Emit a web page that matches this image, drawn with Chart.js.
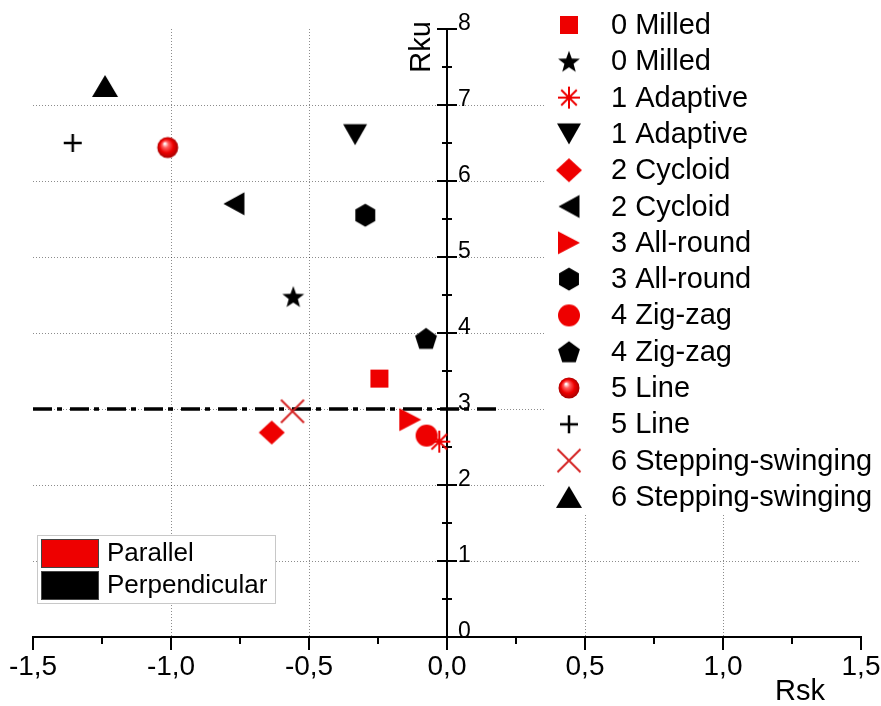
<!DOCTYPE html>
<html>
<head>
<meta charset="utf-8">
<script src="https://cdn.jsdelivr.net/npm/chart.js@4.4.1/dist/chart.umd.min.js"></script>
<style>
  html, body { margin: 0; padding: 0; background: #ffffff; }
  #wrap { width: 881px; height: 706px; }
</style>
</head>
<body>
<div id="wrap"><canvas id="c" width="881" height="706"></canvas></div>
<script>
// ---------------- DATA ----------------
const seriesNames = ['0 Milled', '0 Milled', '1 Adaptive', '1 Adaptive', '2 Cycloid', '2 Cycloid',
  '3 All-round', '3 All-round', '4 Zig-zag', '4 Zig-zag', '5 Line', '5 Line',
  '6 Stepping-swinging', '6 Stepping-swinging'];
const orientation = ['Parallel', 'Perpendicular', 'Parallel', 'Perpendicular', 'Parallel', 'Perpendicular',
  'Parallel', 'Perpendicular', 'Parallel', 'Perpendicular', 'Parallel', 'Perpendicular',
  'Parallel', 'Perpendicular'];
const rskValues = [-0.245, -0.557, -0.028, -0.333, -0.635, -0.772, -0.133, -0.296, -0.074, -0.076, -1.012, -1.356, -0.560, -1.239];
const rkuValues = [3.40, 4.48, 2.57, 6.61, 2.69, 5.70, 2.86, 5.55, 2.65, 3.93, 6.44, 6.50, 2.97, 7.25];
const refLineRsk = [-1.5, 0.185];
const refLineRku = [3, 3];
const xTicks = [-1.5, -1.0, -0.5, 0.0, 0.5, 1.0, 1.5];
const yTicks = [0, 1, 2, 3, 4, 5, 6, 7, 8];
const groupNames = ['Parallel', 'Perpendicular'];

// ---------------- STYLE ----------------
const RED = '#ee0000';
const BLACK = '#000000';
const shapeNames = ['square', 'star5', 'asterisk', 'triDown', 'diamond', 'triLeft', 'triRight',
  'hexagon', 'circle', 'pentagon', 'ball', 'plus', 'xcross', 'triUp'];
const FONT = 'Arial, "Liberation Sans", Helvetica, sans-serif';

function poly(g, pts) {
  g.beginPath();
  pts.forEach((p, i) => i ? g.lineTo(p[0], p[1]) : g.moveTo(p[0], p[1]));
  g.closePath();
  g.fill();
}
function regular(n, r, start, dy) {
  const pts = [];
  for (let k = 0; k < n; k++) {
    const a = start + k * 2 * Math.PI / n;
    pts.push([r * Math.cos(a), r * Math.sin(a) + (dy || 0)]);
  }
  return pts;
}
function makeMarker(shape, color) {
  const c = document.createElement('canvas');
  c.width = 32; c.height = 32;
  const g = c.getContext('2d');
  g.translate(16, 16);
  g.fillStyle = color; g.strokeStyle = color;
  switch (shape) {
    case 'square': g.fillRect(-9, -9, 18, 18); break;
    case 'star5': {
      const pts = [];
      for (let k = 0; k < 10; k++) {
        const r = k % 2 ? 4.8 : 11.5;
        const a = -Math.PI / 2 + k * Math.PI / 5;
        pts.push([r * Math.cos(a), r * Math.sin(a) + 1.1]);
      }
      poly(g, pts); break;
    }
    case 'asterisk': {
      g.lineWidth = 2;
      for (let k = 0; k < 4; k++) {
        const a = k * Math.PI / 4;
        g.beginPath();
        g.moveTo(-11 * Math.cos(a), -11 * Math.sin(a));
        g.lineTo(11 * Math.cos(a), 11 * Math.sin(a));
        g.stroke();
      }
      break;
    }
    case 'triDown': poly(g, [[-12, -10.5], [12, -10.5], [0, 10.5]]); break;
    case 'diamond': poly(g, [[0, -12], [13, 0], [0, 12], [-13, 0]]); break;
    case 'triLeft': poly(g, [[-10.5, 0], [10.5, -11.5], [10.5, 11.5]]); break;
    case 'triRight': poly(g, [[11, 0], [-11, -11.5], [-11, 11.5]]); break;
    case 'hexagon': poly(g, regular(6, 11.5, -Math.PI / 2, 0)); break;
    case 'circle': g.beginPath(); g.arc(0, 0, 11, 0, Math.PI * 2); g.fill(); break;
    case 'pentagon': poly(g, regular(5, 11.5, -Math.PI / 2, 1.1)); break;
    case 'ball': {
      const gr = g.createRadialGradient(-3, -4, 0.5, 0, 0, 11);
      gr.addColorStop(0, '#ffffff');
      gr.addColorStop(0.25, '#ff6060');
      gr.addColorStop(0.6, '#ee0000');
      gr.addColorStop(1, '#a00000');
      g.fillStyle = gr;
      g.beginPath(); g.arc(0, 0, 10.5, 0, Math.PI * 2); g.fill();
      break;
    }
    case 'plus':
      g.lineWidth = 2.5;
      g.beginPath(); g.moveTo(-9, 0); g.lineTo(9, 0); g.moveTo(0, -9); g.lineTo(0, 9); g.stroke();
      break;
    case 'xcross':
      g.strokeStyle = '#d42424';
      g.lineWidth = 2;
      g.beginPath(); g.moveTo(-11.5, -11.5); g.lineTo(11.5, 11.5); g.moveTo(11.5, -11.5); g.lineTo(-11.5, 11.5); g.stroke();
      break;
    case 'triUp': poly(g, [[0, -11], [13, 11], [-13, 11]]); break;
  }
  return c;
}
const markers = shapeNames.map((s, i) => makeMarker(s, orientation[i] === 'Parallel' ? RED : BLACK));

const fmt = v => (Math.round(v * 10) / 10).toFixed(1).replace('.', ',');

// ---------------- PLUGINS ----------------
const axesPlugin = {
  id: 'crossAxes',
  beforeDatasetsDraw(chart) {
    const { ctx, scales: { x, y } } = chart;
    ctx.save();
    ctx.strokeStyle = '#000';
    ctx.lineWidth = 2;
    // x axis minor/major ticks
    const yb = y.getPixelForValue(0);
    for (let v = -1.5; v <= 1.5001; v += 0.25) {
      const px = x.getPixelForValue(v);
      const major = Math.abs(v * 2 - Math.round(v * 2)) < 1e-6;
      ctx.beginPath(); ctx.moveTo(px, yb); ctx.lineTo(px, yb + (major ? 13 : 7)); ctx.stroke();
    }
    // y axis at x = 0
    const x0 = x.getPixelForValue(0);
    ctx.beginPath(); ctx.moveTo(x0, y.getPixelForValue(0)); ctx.lineTo(x0, y.getPixelForValue(8)); ctx.stroke();
    for (let v = 0.5; v <= 8.0001; v += 0.5) {
      const py = y.getPixelForValue(v);
      const major = Math.abs(v - Math.round(v)) < 1e-6;
      const h = major ? 10 : 5;
      ctx.beginPath(); ctx.moveTo(x0 - h, py); ctx.lineTo(x0 + h, py); ctx.stroke();
    }
    ctx.fillStyle = '#000';
    ctx.font = '23px ' + FONT;
    ctx.textAlign = 'left';
    ctx.textBaseline = 'alphabetic';
    yTicks.forEach(v => ctx.fillText(String(v), x0 + 11, y.getPixelForValue(v) + 1));
    // axis titles
    ctx.font = '29px ' + FONT;
    ctx.textAlign = 'center';
    ctx.fillText('Rsk', 800, 700);
    ctx.save();
    ctx.translate(430, 47);
    ctx.rotate(-Math.PI / 2);
    ctx.fillText('Rku', 0, 0);
    ctx.restore();
    ctx.restore();
  },
  afterDraw(chart) {
    const { ctx } = chart;
    ctx.save();
    // series legend (right)
    ctx.fillStyle = '#fff';
    ctx.fillRect(545, 4, 336, 510);
    ctx.font = '29px ' + FONT;
    ctx.textAlign = 'left';
    ctx.textBaseline = 'middle';
    chart.data.datasets.forEach((ds, i) => {
      if (!ds.inLegend) return;
      const cy = 25 + ds.legendRow * 36.3;
      ctx.drawImage(ds.pointStyle, 569 - 16, cy - 16);
      ctx.fillStyle = '#000';
      ctx.fillText(ds.label, 611, cy + 1);
    });
    // orientation legend (bottom-left)
    ctx.fillStyle = '#fff';
    ctx.fillRect(37, 535, 238, 68);
    ctx.strokeStyle = '#c8c8c8';
    ctx.lineWidth = 1;
    ctx.strokeRect(37.5, 535.5, 238, 68);
    const swatch = [RED, BLACK];
    groupNames.forEach((g, k) => {
      const top = 539 + k * 32;
      ctx.fillStyle = swatch[k];
      ctx.fillRect(41, top, 58, 29);
      ctx.strokeStyle = '#444';
      ctx.strokeRect(41.5, top + 0.5, 57, 28);
      ctx.fillStyle = '#000';
      ctx.font = '26px ' + FONT;
      ctx.fillText(g, 107, top + 15);
    });
    ctx.restore();
  }
};

// ---------------- CHART ----------------
const datasets = seriesNames.map((name, i) => ({
  label: name,
  data: [{ x: rskValues[i], y: rkuValues[i] }],
  pointStyle: markers[i],
  pointRadius: 12,
  pointHoverRadius: 12,
  backgroundColor: orientation[i] === 'Parallel' ? RED : BLACK,
  borderColor: orientation[i] === 'Parallel' ? RED : BLACK,
  inLegend: true,
  legendRow: i,
  order: 0
}));
datasets.push({
  label: 'Rku = 3',
  data: refLineRsk.map((v, i) => ({ x: v, y: refLineRku[i] })),
  showLine: true,
  borderColor: '#000',
  borderWidth: 3.5,
  borderDash: [19, 5, 5, 8],
  pointRadius: 0,
  pointHoverRadius: 0,
  inLegend: false,
  order: 1
});

new Chart(document.getElementById('c'), {
  type: 'scatter',
  data: { datasets },
  options: {
    responsive: false,
    animation: false,
    layout: { padding: { left: 33, right: 20, top: 29, bottom: 0 } },
    plugins: { legend: { display: false }, tooltip: { enabled: false } },
    scales: {
      x: {
        type: 'linear',
        min: -1.5, max: 1.5,
        afterBuildTicks: s => { s.ticks = xTicks.map(v => ({ value: v })); },
        afterFit: s => { s.height = 69; },
        ticks: {
          callback: v => fmt(v),
          font: { size: 28, family: FONT },
          color: '#000',
          padding: 0,
          maxRotation: 0, minRotation: 0,
          autoSkip: false
        },
        grid: {
          color: c => (c.tick && [-1, -0.5, 0.5, 1].some(t => Math.abs(t - c.tick.value) < 1e-6)) ? 'rgba(0,0,0,0.45)' : 'transparent',
          lineWidth: 1,
          drawTicks: true,
          tickLength: 13,
          tickColor: 'transparent'
        },
        border: { display: true, color: '#000', width: 2, dash: [1, 2] }
      },
      y: {
        type: 'linear',
        min: 0, max: 8,
        afterBuildTicks: s => { s.ticks = yTicks.map(v => ({ value: v })); },
        afterFit: s => { s.width = 0; },
        ticks: { display: false },
        grid: {
          color: c => (c.tick && c.tick.value > 0 && c.tick.value < 8) ? 'rgba(0,0,0,0.45)' : 'transparent',
          lineWidth: 1,
          drawTicks: false
        },
        border: { display: false, dash: [1, 2] }
      }
    }
  },
  plugins: [axesPlugin]
});
</script>
</body>
</html>
